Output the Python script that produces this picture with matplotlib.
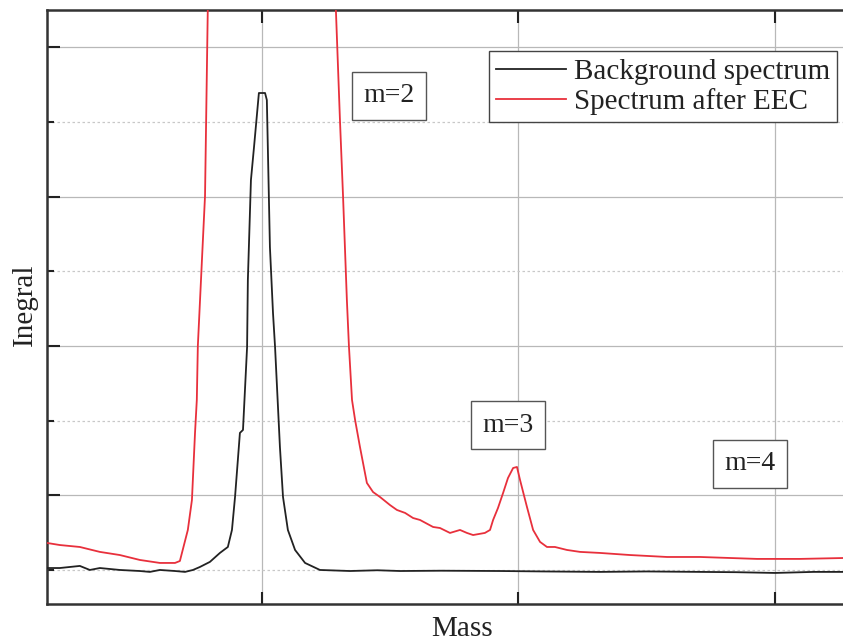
import matplotlib
matplotlib.use("Agg")
import matplotlib.pyplot as plt
import numpy as np
from matplotlib.ticker import MultipleLocator, NullFormatter

plt.rcParams["font.family"] = ["Liberation Serif", "DejaVu Serif"]

# Background spectrum (black)
bg_mass = [1.162, 1.212, 1.290, 1.329, 1.368, 1.446, 1.524, 1.563, 1.602, 1.661,
           1.700, 1.731, 1.758, 1.797, 1.836, 1.867, 1.883, 1.895, 1.906, 1.914,
           1.926, 1.942, 1.945, 1.957, 1.969, 1.988, 2.012, 2.019, 2.031, 2.043,
           2.051, 2.070, 2.082, 2.101, 2.129, 2.168, 2.226, 2.343, 2.450, 2.538,
           2.700, 2.928, 3.100, 3.318, 3.500, 3.708, 3.850, 4.000, 4.150, 4.265]
bg_int = [0.013, 0.013, 0.027, 0.000, 0.013, 0.000, -0.007, -0.013, 0.000, -0.007,
          -0.013, 0.000, 0.020, 0.054, 0.114, 0.154, 0.268, 0.489, 0.737, 0.918,
          0.938, 1.494, 1.942, 2.612, 2.833, 3.195, 3.195, 3.148, 2.163, 1.721,
          1.494, 0.824, 0.489, 0.268, 0.134, 0.047, 0.000, -0.007, -0.002, -0.007,
          -0.005, -0.007, -0.010, -0.013, -0.010, -0.013, -0.015, -0.020, -0.013, -0.013]

# Spectrum after EEC (red)
eec_mass = [1.162, 1.212, 1.290, 1.368, 1.446, 1.524, 1.602, 1.661, 1.680, 1.711,
            1.727, 1.739, 1.746, 1.750, 1.766, 1.778, 1.790, 2.000, 2.285,
            2.304, 2.316, 2.331, 2.339, 2.351, 2.363, 2.382, 2.409, 2.433, 2.460,
            2.499, 2.526, 2.558, 2.589, 2.616, 2.667, 2.694, 2.733, 2.772, 2.799,
            2.823, 2.869, 2.889, 2.901, 2.920, 2.940, 2.959, 2.979, 2.994, 3.006,
            3.021, 3.033, 3.057, 3.084, 3.111, 3.142, 3.189, 3.240, 3.318, 3.435,
            3.579, 3.708, 3.930, 4.097, 4.265]
eec_int = [0.181, 0.167, 0.154, 0.121, 0.100, 0.067, 0.047, 0.047, 0.060, 0.268,
           0.469, 0.918, 1.139, 1.500, 2.076, 2.505, 3.900, 20.0, 3.900,
           3.014, 2.505, 1.808, 1.500, 1.139, 1.005, 0.824, 0.583, 0.522, 0.489,
           0.435, 0.402, 0.382, 0.348, 0.335, 0.288, 0.281, 0.248, 0.268, 0.248,
           0.234, 0.248, 0.268, 0.335, 0.415, 0.516, 0.616, 0.683, 0.690, 0.603,
           0.502, 0.422, 0.268, 0.188, 0.154, 0.154, 0.134, 0.121, 0.114, 0.100,
           0.087, 0.087, 0.074, 0.074, 0.080]

peak_labels = ["m=2", "m=3", "m=4"]
peak_label_pos = [(2.495, 3.175), (2.959, 0.971), (3.903, 0.710)]

W, H = 843, 644
fig = plt.figure(figsize=(W / 100, H / 100), dpi=100)
ax = fig.add_axes([47 / W, 1 - 604 / H, 1 - 47 / W, (604 - 10) / H])

ax.plot(bg_mass, bg_int, color="#222222", lw=1.3, label="Background spectrum", zorder=3)
ax.plot(eec_mass, eec_int, color="#e8303c", lw=1.3, label="Spectrum after EEC", zorder=3)

ax.set_xlim(1.162, 4.265)
ax.set_ylim(-0.228, 3.751)

ax.xaxis.set_major_locator(MultipleLocator(1.0))
ax.yaxis.set_major_locator(MultipleLocator(1.0, offset=0.5))
ax.yaxis.set_minor_locator(MultipleLocator(1.0))
ax.xaxis.set_major_formatter(NullFormatter())
ax.yaxis.set_major_formatter(NullFormatter())

ax.grid(True, which="major", axis="both", color="#b8b8b8", lw=0.9)
ax.grid(True, which="minor", axis="y", color="#c8c8c8", lw=0.9, ls=(0, (2, 2)))
ax.set_axisbelow(True)

ax.tick_params(axis="x", which="major", direction="in", length=9, width=1.5,
               top=True, bottom=True, color="#222222")
ax.tick_params(axis="y", which="major", direction="in", length=9.5, width=1.5,
               left=True, right=False, color="#222222")
ax.tick_params(axis="y", which="minor", direction="in", length=5, width=1.5,
               left=True, right=False, color="#222222")
ax.tick_params(axis="x", which="minor", bottom=False, top=False)

for side in ("left", "bottom", "top"):
    ax.spines[side].set_linewidth(1.8)
    ax.spines[side].set_color("#333333")
ax.spines["right"].set_visible(False)

for txt, (x, y) in zip(peak_labels, peak_label_pos):
    ax.text(x, y, txt, fontsize=20, ha="center", va="center", color="#222222", zorder=4,
            bbox=dict(boxstyle="square,pad=0.4", fc="white", ec="#555555", lw=1.0))

leg = ax.legend(loc="upper right", bbox_to_anchor=(837 / W, 1 - 51 / H),
                bbox_transform=fig.transFigure, borderaxespad=0, fontsize=21,
                frameon=True, fancybox=False, framealpha=1, edgecolor="#444444",
                handlelength=2.4, handletextpad=0.25, labelspacing=0.12,
                borderpad=0.25)
leg.get_frame().set_linewidth(1.0)
for t in leg.get_texts():
    t.set_color("#222222")

fig.text(25 / W, 1 - 305 / H, "Inegral", rotation=90, fontsize=21,
         ha="center", va="center", color="#222222")
fig.text(462 / W, 1 - 629 / H, "Mass", fontsize=21, ha="center", va="center",
         color="#222222")

fig.savefig("out.png", dpi=100)
